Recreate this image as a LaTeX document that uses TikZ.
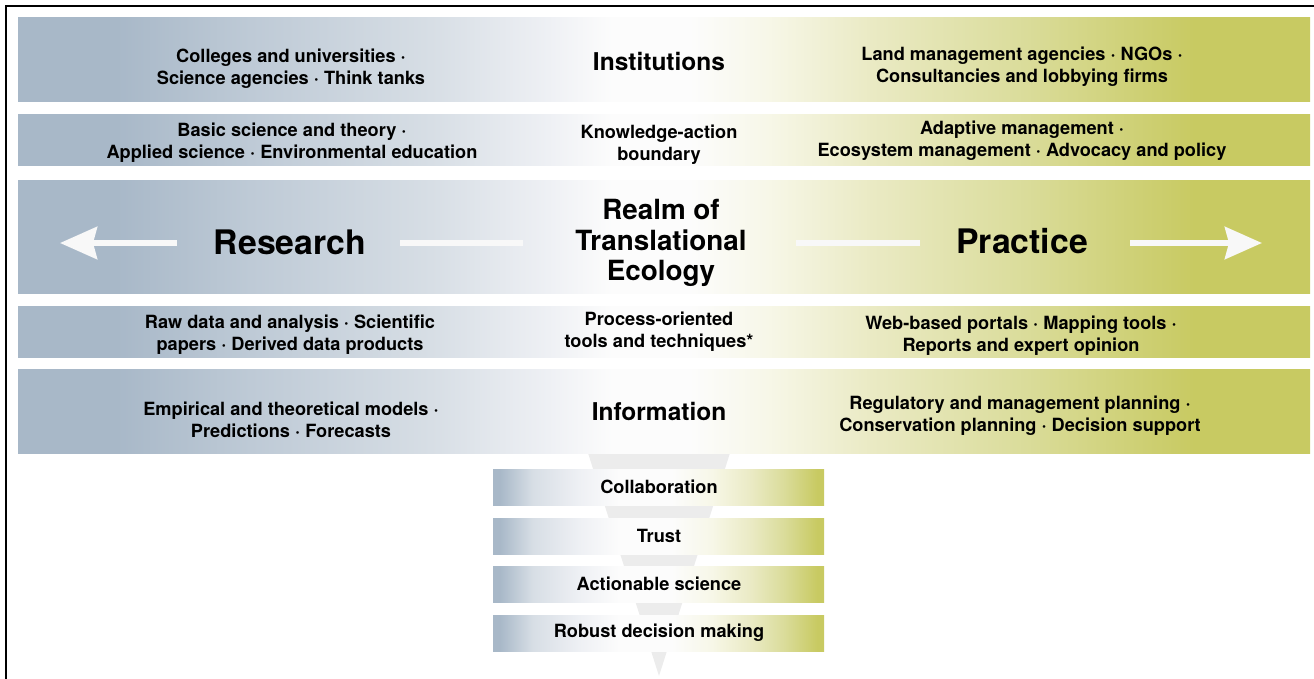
\documentclass[tikz,border=0pt]{standalone}
\usepackage{fontspec}
\setmainfont{TeX Gyre Heros}
\usetikzlibrary{arrows.meta}
\definecolor{bl}{RGB}{168,184,200}
\definecolor{blb}{RGB}{190,202,214}
\definecolor{blc}{RGB}{215,222,229}
\definecolor{bld}{RGB}{238,240,244}
\definecolor{wh}{RGB}{252,252,252}
\definecolor{ola}{RGB}{247,247,232}
\definecolor{olb}{RGB}{234,234,196}
\definecolor{olc}{RGB}{218,220,154}
\definecolor{ol}{RGB}{200,202,98}
\definecolor{fun}{RGB}{236,236,236}
\definecolor{arw}{RGB}{248,248,248}
\pgfdeclarehorizontalshading{bandshade}{100bp}{color(0bp)=(bl); color(25bp)=(bl); color(28.8bp)=(bl); color(34bp)=(blb); color(41bp)=(blc); color(45.5bp)=(bld); color(48bp)=(wh); color(51bp)=(wh); color(54bp)=(ola); color(58bp)=(olb); color(64bp)=(olc); color(70.5bp)=(ol); color(75bp)=(ol); color(100bp)=(ol)}
\pgfdeclarehorizontalshading{boxshade}{100bp}{color(0bp)=(bl); color(25bp)=(bl); color(26bp)=(bl); color(31bp)=(blc); color(38bp)=(bld); color(44bp)=(wh); color(52bp)=(wh); color(58bp)=(ola); color(64bp)=(olb); color(69bp)=(olc); color(74bp)=(ol); color(75bp)=(ol); color(100bp)=(ol)}
\tikzset{
  band/.style={shading=bandshade},
  fbox/.style={shading=boxshade},
  txt/.style={font=\fontsize{18.2}{22}\selectfont\bfseries, align=center, inner sep=0pt},
  midtxt/.style={font=\fontsize{24.5}{28}\selectfont\bfseries, align=center, inner sep=0pt},
  realm/.style={font=\fontsize{27.8}{30.5}\selectfont\bfseries, align=center, inner sep=0pt},
  bigtxt/.style={font=\fontsize{33.8}{36}\selectfont\bfseries, inner sep=0pt},
  wline/.style={draw=arw, line width=6pt},
  warrow/.style={draw=arw, line width=6pt, -{Stealth[length=37pt,width=32pt,inset=4pt]}},
  frame/.style={draw=black, line width=2pt}
}
\begin{document}
\begin{tikzpicture}[x=1pt,y=-1pt]
\useasboundingbox (0,0) rectangle (1314,679);
% frame
\coordinate (fa) at (6,679);
\coordinate (fb) at (6,6);
\coordinate (fc) at (1314,6);
\draw[frame] (fa) -- (fb) -- (fc);
% funnel
\fill[fun] (588,453) -- (730,453) -- (659,676) -- cycle;
% bands
\path[band] (18,18) rectangle (1310,102);
\path[band] (18,115) rectangle (1310,166);
\path[band] (18,181) rectangle (1310,293);
\path[band] (18,306) rectangle (1310,357);
\path[band] (18,369) rectangle (1310,453);
% funnel boxes
\path[fbox] (493,469) rectangle (824,505);
\path[fbox] (493,518) rectangle (824,554);
\path[fbox] (493,566) rectangle (824,602);
\path[fbox] (493,615) rectangle (824,651);
% band 1
\node[txt] (i1) at (291,69) {Colleges and universities ·\\Science agencies · Think tanks};
\node[midtxt] (inst) at (659,61) {Institutions};
\node[txt] (i2) at (1022,67) {Land management agencies · NGOs ·\\Consultancies and lobbying firms};
% band 2
\node[txt] (k1) at (292,143) {Basic science and theory ·\\Applied science · Environmental education};
\node[txt] (kab) at (659,145) {Knowledge-action\\boundary};
\node[txt] (k2) at (1022,141) {Adaptive management ·\\Ecosystem management · Advocacy and policy};
% band 3
\node[bigtxt] (res) at (290,242) {Research};
\node[realm] (realm) at (661,243) {Realm of\\Translational\\Ecology};
\node[bigtxt] (prac) at (1022,241) {Practice};
\coordinate (las) at (177,243);
\coordinate (lat) at (60,243);
\coordinate (l1a) at (400,243);
\coordinate (l1b) at (523,243);
\coordinate (l2a) at (796,243);
\coordinate (l2b) at (920,243);
\coordinate (ras) at (1130,243);
\coordinate (rat) at (1262,243);
\draw[warrow] (las) -- (lat);
\draw[wline] (l1a) -- (l1b);
\draw[wline] (l2a) -- (l2b);
\draw[warrow] (ras) -- (rat);
% band 4
\node[txt] (d1) at (290,335) {Raw data and analysis · Scientific\\papers · Derived data products};
\node[txt] (pot) at (659,332) {Process-oriented\\tools and techniques*};
\node[txt] (d2) at (1021,336) {Web-based portals · Mapping tools ·\\Reports and expert opinion};
% band 5
\node[txt] (m1) at (291,420) {Empirical and theoretical models ·\\Predictions · Forecasts};
\node[midtxt] (info) at (659,411) {Information};
\node[txt] (m2) at (1020,416) {Regulatory and management planning ·\\Conservation planning · Decision support};
% funnel labels
\node[txt] (c1) at (659,487) {Collaboration};
\node[txt] (c2) at (659,536) {Trust};
\node[txt] (c3) at (659,584) {Actionable science};
\node[txt] (c4) at (659,633) {Robust decision making};
\end{tikzpicture}
\end{document}
